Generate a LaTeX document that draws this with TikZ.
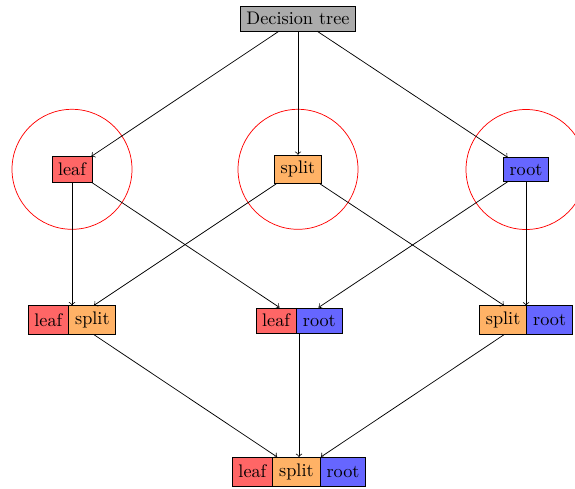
\documentclass[tikz,border=0pt]{standalone}
\usetikzlibrary{shapes.multipart}
\definecolor{lf}{rgb}{1,0.4,0.4}
\definecolor{sp}{rgb}{1,0.7,0.4}
\definecolor{rt}{rgb}{0.4,0.4,1}
\begin{document}
\begin{tikzpicture}[x=0.549pt, y=-0.549pt,
  single/.style={draw},
  multi/.style={draw, rectangle split, rectangle split horizontal},
  conn/.style={->},
  ring/.style={red}]
\useasboundingbox (0,0) rectangle (575,488);
\node[single, fill=black!33] (dt) at (298,18.5) {Decision tree};
\node[single, fill=lf] (leaf) at (72,169.3) {leaf};
\node[single, fill=sp] (split) at (298,169.3) {split};
\node[single, fill=rt] (root) at (526,169.5) {root};
\node[multi, rectangle split parts=2, rectangle split part fill={lf,sp}] (ls) at (72,320) {leaf\nodepart{two}split};
\node[multi, rectangle split parts=2, rectangle split part fill={lf,rt}] (lr) at (299,320.5) {leaf\nodepart{two}root};
\node[multi, rectangle split parts=2, rectangle split part fill={sp,rt}] (sr) at (526,320) {split\nodepart{two}root};
\node[multi, rectangle split parts=3, rectangle split part fill={lf,sp,rt}] (lsr) at (299,471.6) {leaf\nodepart{two}split\nodepart{three}root};
\draw[ring] (leaf.center) circle[radius=60];
\draw[ring] (split.center) circle[radius=60];
\draw[ring] (root.center) circle[radius=60];
\draw[conn] (dt) -- (leaf);
\draw[conn] (dt) -- (split);
\draw[conn] (dt) -- (root);
\draw[conn] (leaf) -- (ls);
\draw[conn] (leaf) -- (lr);
\draw[conn] (split) -- (ls);
\draw[conn] (split) -- (sr);
\draw[conn] (root) -- (lr);
\draw[conn] (root) -- (sr);
\draw[conn] (ls) -- (lsr);
\draw[conn] (lr) -- (lsr);
\draw[conn] (sr) -- (lsr);
\end{tikzpicture}
\end{document}
